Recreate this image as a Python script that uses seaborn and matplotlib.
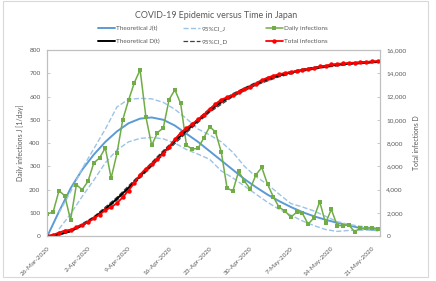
import matplotlib
matplotlib.use("Agg")
import matplotlib.pyplot as plt
import seaborn as sns
from matplotlib.patches import Rectangle

# ---- data (day 0 = 26-Mar-2020) ----
days = list(range(58))
daily_infections = [95, 104, 195, 173, 69, 221, 199, 235, 314, 336, 379, 249, 355, 500,
                    584, 659, 715, 512, 390, 445, 465, 587, 629, 570, 390, 374, 377, 423,
                    470, 448, 362, 207, 193, 278, 236, 203, 264, 295, 222, 168, 123, 108,
                    81, 102, 98, 51, 79, 148, 55, 115, 45, 45, 48, 19, 33, 33, 36, 29]
total_infections = [0, 104, 299, 472, 541, 762, 961, 1196, 1510, 1846, 2225, 2474, 2829,
                    3329, 3913, 4572, 5287, 5799, 6189, 6634, 7099, 7686, 8315, 8885, 9275,
                    9649, 10026, 10449, 10919, 11367, 11729, 11936, 12129, 12407, 12643,
                    12846, 13110, 13405, 13627, 13795, 13918, 14026, 14107, 14209, 14307,
                    14358, 14437, 14585, 14640, 14755, 14800, 14845, 14893, 14912, 14945,
                    14978, 15014, 15043]

# theoretical curves, sampled every 2 days
theo_days = [0, 2, 4, 6, 8, 10, 12, 14, 16, 18, 20, 22, 24, 26, 28, 30, 32, 34, 36, 38,
             40, 42, 44, 46, 48, 50, 52, 54, 56, 57]
theo_J = [0, 105, 205, 285, 350, 405, 450, 485, 505, 510, 500, 475, 440, 405, 365, 325,
          285, 245, 210, 178, 150, 125, 103, 85, 70, 57, 46, 34, 27, 24]
theo_D = [0, 130, 420, 900, 1560, 2330, 3200, 4150, 5150, 6170, 7180, 8150, 9060, 9920,
          10800, 11500, 12120, 12650, 13100, 13480, 13800, 14060, 14270, 14450, 14600,
          14720, 14820, 14900, 14960, 14990]

# 95% confidence band of J
ci_days = [2, 4, 6, 8, 10, 12, 14, 16, 18, 20, 22, 24, 26, 28, 30, 32, 34, 36, 38, 40,
           42, 44, 46, 48, 50, 52, 54, 56, 57]
ci_J_upper = [100, 190, 290, 375, 460, 555, 588, 592, 590, 575, 545, 505, 460, 435, 405,
              360, 300, 255, 222, 180, 140, 125, 108, 85, 62, 50, 42, 36, 34]
ci_J_lower = [30, 95, 170, 240, 315, 370, 405, 420, 424, 418, 400, 372, 352, 330, 280,
              250, 215, 180, 145, 115, 90, 65, 45, 28, 20, 24, 25, 26, 26]

# 95% confidence band of D
ci_D_days = [2, 4, 8, 12, 16, 20, 24, 28, 32, 36, 40, 44, 48, 52, 56, 57]
ci_D_upper = [150, 470, 1650, 3330, 5300, 7350, 9230, 10950, 12250, 13220, 13900, 14360,
              14680, 14890, 15020, 15040]
ci_D_lower = [110, 370, 1470, 3070, 5000, 7010, 8890, 10650, 11990, 12980, 13700, 14180,
              14520, 14750, 14900, 14940]

tick_days = [0, 7, 14, 21, 28, 35, 42, 49, 56]
tick_labels = ["26-Mar-2020", "2-Apr-2020", "9-Apr-2020", "16-Apr-2020", "23-Apr-2020",
               "30-Apr-2020", "7-May-2020", "14-May-2020", "21-May-2020"]

sns.set_style("white")
plt.rcParams["font.family"] = ["Lato", "DejaVu Sans"]
grey_txt = "#595959"
grey_line = "#bfbfbf"

fig = plt.figure(figsize=(4.36, 2.81), dpi=100)
ax = fig.add_axes([0.1087, 0.160, 0.7629, 0.662])
ax2 = ax.twinx()

# primary axis: daily infections
sns.lineplot(x=theo_days, y=theo_J, ax=ax, color="#5b9bd5", linewidth=1.4,
             label="Theoretical J(t)", legend=False)
sns.lineplot(x=ci_days, y=ci_J_upper, ax=ax, color="#9dc3e6", linewidth=1.0,
             linestyle="--", label="95%CI_J", legend=False)
sns.lineplot(x=ci_days, y=ci_J_lower, ax=ax, color="#9dc3e6", linewidth=1.0,
             linestyle="--", legend=False)
sns.lineplot(x=days, y=daily_infections, ax=ax, color="#70ad47", linewidth=1.1,
             marker="s", markersize=2.8, markeredgewidth=0, label="Daily infections",
             legend=False)

# secondary axis: total infections
sns.lineplot(x=ci_D_days, y=ci_D_upper, ax=ax2, color="#404040", linewidth=0.9,
             linestyle="--", label="95%CI_D", legend=False)
sns.lineplot(x=ci_D_days, y=ci_D_lower, ax=ax2, color="#404040", linewidth=0.9,
             linestyle="--", legend=False)
sns.lineplot(x=theo_days, y=theo_D, ax=ax2, color="black", linewidth=1.4,
             label="Theoretical D(t)", legend=False)
sns.lineplot(x=days, y=total_infections, ax=ax2, color="#ff0000", linewidth=1.3,
             marker="o", markersize=3.2, markeredgewidth=0, label="Total infections",
             legend=False)

ax.set_xlim(0, 57.4)
ax.set_ylim(0, 800)
ax2.set_ylim(0, 16000)
ax.set_yticks(range(0, 801, 100))
ax2.set_yticks(range(0, 16001, 2000))
ax2.set_yticklabels([f"{v:,}" for v in range(0, 16001, 2000)])
ax.set_xticks(tick_days)
ax.set_xticklabels(tick_labels, rotation=45, ha="right", rotation_mode="anchor")

for a in (ax, ax2):
    for sp in a.spines.values():
        sp.set_color(grey_line)
        sp.set_linewidth(0.8)
    a.tick_params(colors=grey_txt, labelsize=4.6, length=2, width=0.6, color=grey_line,
                  direction="in", pad=5)
ax.tick_params(axis="x", pad=7)
ax2.tick_params(axis="y", pad=4.5)
ax.set_ylabel("Daily infections J [1/day]", fontsize=5, color=grey_txt, labelpad=4)
ax2.set_ylabel("Total infections D", fontsize=5, color=grey_txt, labelpad=5)

fig.text(0.496, 0.946, "COVID-19 Epidemic versus Time in Japan", ha="center",
         va="center", fontsize=6.4, color=grey_txt)

# legend: three columns placed like the Excel legend
h1, l1 = ax.get_legend_handles_labels()
h2, l2 = ax2.get_legend_handles_labels()
hd = dict(zip(l1 + l2, h1 + h2))
columns = [("Theoretical J(t)", "Theoretical D(t)", 98),
           ("95%CI_J", "95%CI_D", 183),
           ("Daily infections", "Total infections", 266)]
for top, bottom, xpx in columns:
    leg = fig.legend([hd[top], hd[bottom]], [top, bottom], loc="upper left",
                     bbox_to_anchor=(xpx / 436, 1 - 26 / 281), frameon=False,
                     fontsize=4.6, handlelength=2.66, labelspacing=1.1,
                     handletextpad=0.2, borderpad=0, borderaxespad=0)
    for t in leg.get_texts():
        t.set_color(grey_txt)

fig.patches.append(Rectangle((0.0069, 0.0142), 0.975, 0.982, transform=fig.transFigure,
                             fill=False, edgecolor="#d9d9d9", linewidth=0.8))

fig.savefig("out.png", dpi=100)
